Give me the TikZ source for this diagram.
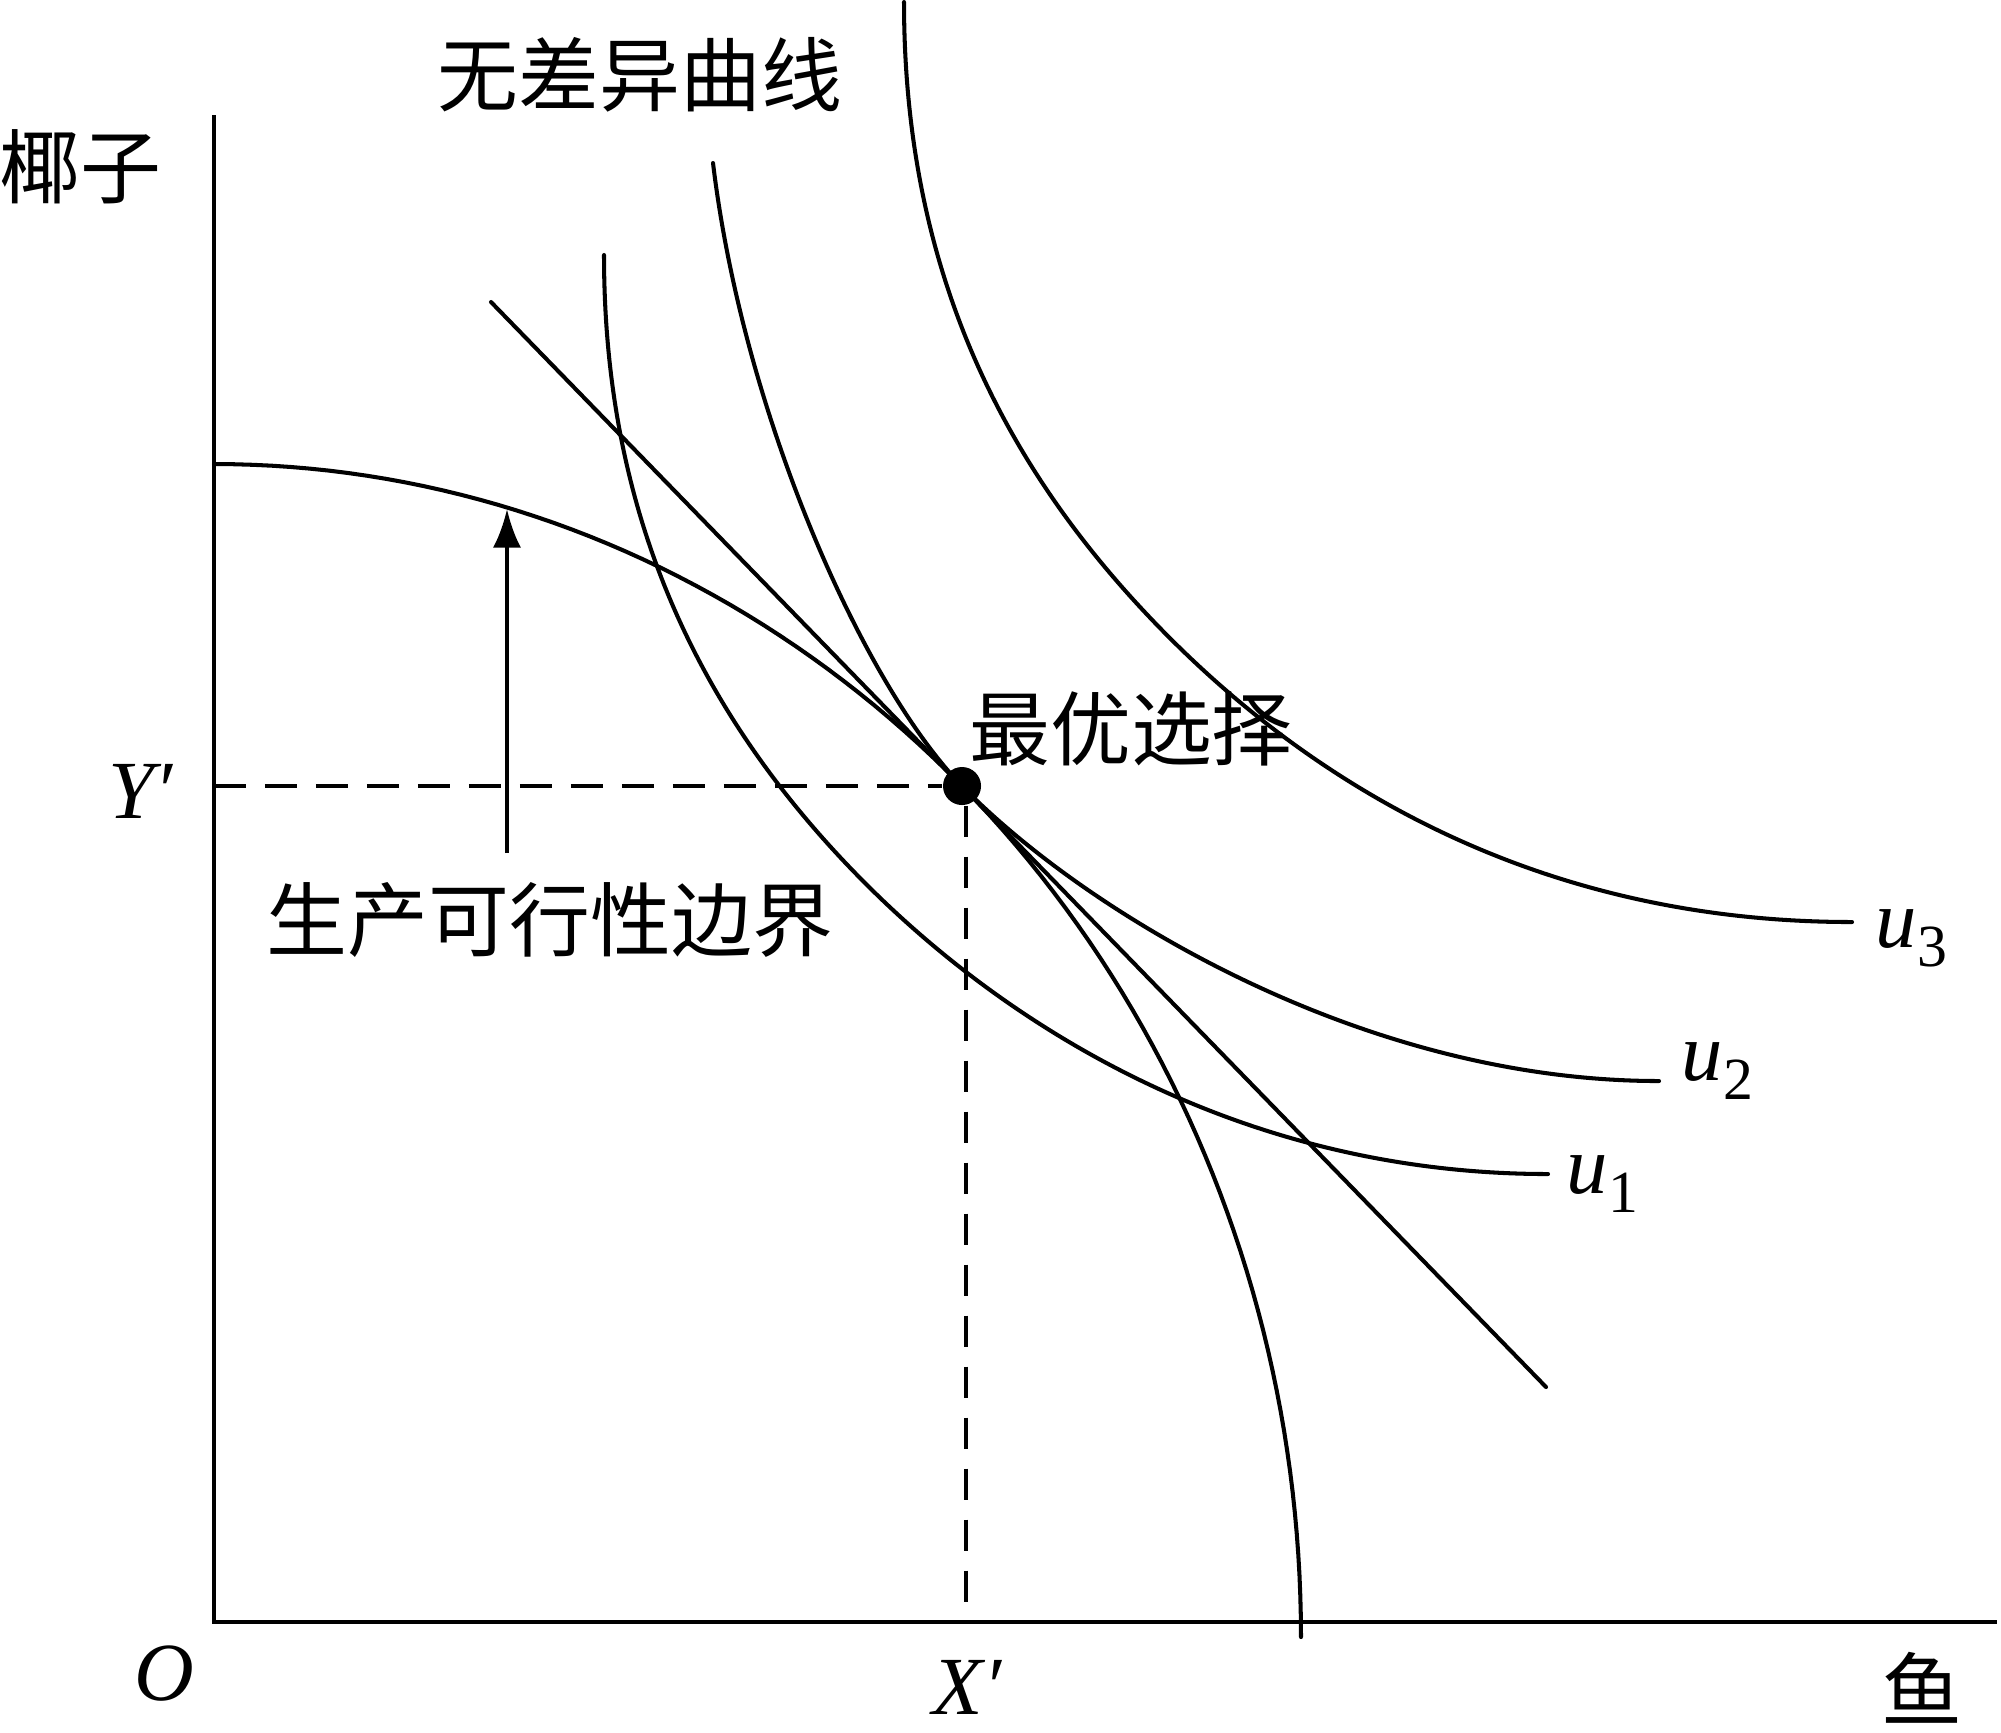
\documentclass[tikz,border=0pt]{standalone}
\usepackage{fontspec}
\setmainfont{Liberation Serif}
\newfontfamily\cjk{Noto Sans CJK SC}
\usetikzlibrary{arrows.meta}
\tikzset{
  curve/.style={line width=1.15pt, line cap=round},
  axisline/.style={line width=1.15pt},
  guide/.style={line width=1.1pt, dash pattern=on 9pt off 5.5pt},
  cjklabel/.style={font=\cjk\fontsize{23}{23}\selectfont, inner sep=0pt},
  latinlabel/.style={font=\fontsize{23.5}{23.5}\selectfont\itshape, inner sep=0pt},
}
\newcommand{\subdigit}[1]{\raisebox{-5.5pt}{\upshape\fontsize{17}{17}\selectfont #1}}
\begin{document}
\begin{tikzpicture}[x=0.01cm, y=-0.01cm]
\useasboundingbox (0,0) rectangle (2001,1732);
% axes
\coordinate (ytop) at (214,115);
\coordinate (origin) at (214,1622);
\coordinate (xend) at (1997,1622);
\draw[axisline] (ytop) -- (origin) -- (xend);
% production possibility frontier
\draw[curve] plot[domain=90:0, samples=90, variable=\t] ({214+1087*cos(\t)}, {1637-1173*sin(\t)});
% tangent line
\coordinate (tA) at (491,302);
\coordinate (tB) at (1546,1387);
\draw[curve] (tA) -- (tB);
% indifference curves
\draw[curve] (604,255) .. controls (604,505) and (691,709) .. (866,884)
  .. controls (1016,1034) and (1248,1174) .. (1548,1174);
\draw[curve] (713,163) .. controls (743,413) and (862,683) .. (962,786)
  .. controls (1082,909) and (1359,1081) .. (1659,1081);
\draw[curve] (904,2) .. controls (904,252) and (990,445) .. (1140,607)
  .. controls (1300,780) and (1532,922) .. (1852,922);
% optimum
\node[circle, fill=black, inner sep=0pt, minimum size=0.38cm] (opt) at (962,786) {};
\coordinate (Ytick) at (214,786);
\coordinate (Xtick) at (966,1622);
\draw[guide] (Ytick) -- (opt);
\draw[guide] (opt.south -| Xtick) -- (Xtick);
% arrow to frontier
\coordinate (arrTail) at (507,853);
\coordinate (arrTip) at (507,509);
\draw[line width=1.15pt, -{Latex[length=11pt,width=8pt]}] (arrTail) -- (arrTip);
% labels
\node[cjklabel] (lyz) at (80,167) {椰子};
\node[cjklabel] (lwc) at (640,75) {无差异曲线};
\node[cjklabel] (lzy) at (1131,729) {最优选择};
\node[cjklabel] (lsc) at (550,920) {生产可行性边界};
\node[cjklabel] (lyu) at (1922,1688) {鱼};
\node[latinlabel, anchor=base west] (lY) at (108,818) {Y′};
\node[latinlabel, anchor=base west] (lX) at (932,1714) {X′};
\node[latinlabel, anchor=base west] (lO) at (134,1700) {O};
\node[latinlabel, anchor=base west] (lu1) at (1566,1193) {u\subdigit{1}};
\node[latinlabel, anchor=base west] (lu2) at (1681,1080) {u\subdigit{2}};
\node[latinlabel, anchor=base west] (lu3) at (1875,947) {u\subdigit{3}};
\end{tikzpicture}
\end{document}
